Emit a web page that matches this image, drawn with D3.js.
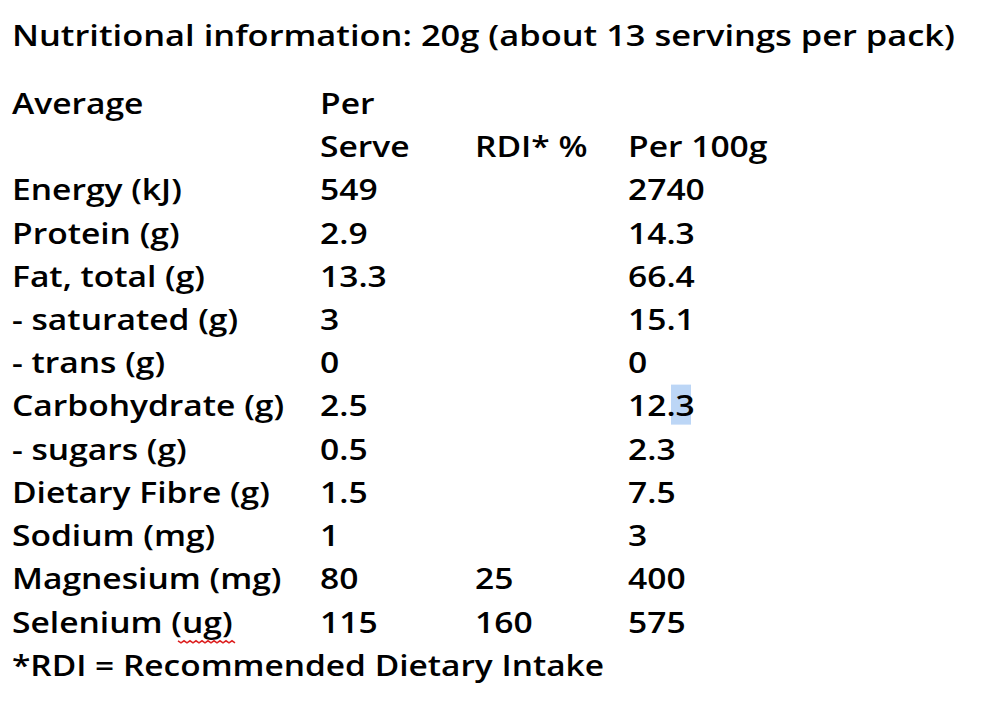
<!DOCTYPE html>
<html><head><meta charset="utf-8">
<script src="https://cdn.jsdelivr.net/npm/d3@7"></script>
<style>body{margin:0;background:#fff}</style>
</head><body>
<script>
const title = "Nutritional information: 20g (about 13 servings per pack)";
const headers = [["Average",""],["Per","Serve"],["","RDI* %"],["","Per 100g"]];
const nutrients = ["Energy (kJ)","Protein (g)","Fat, total (g)","- saturated (g)","- trans (g)","Carbohydrate (g)","- sugars (g)","Dietary Fibre (g)","Sodium (mg)","Magnesium (mg)","Selenium (ug)"];
const perServe = ["549","2.9","13.3","3","0","2.5","0.5","1.5","1","80","115"];
const rdi = ["","","","","","","","","","25","160"];
const per100g = ["2740","14.3","66.4","15.1","0","12.3","2.3","7.5","3","400","575"];
const footnote = "*RDI = Recommended Dietary Intake";

const W=1000,H=708;
const svg=d3.select("body").append("svg").attr("width",W).attr("height",H);
const font="'Open Sans', sans-serif";
const rowKeys=["h1","h2",...nutrients.map((d,i)=>"r"+i),"foot"];
const y=d3.scalePoint().domain(rowKeys).range([103,665]);
const x=d3.scaleOrdinal().domain(["label","serve","rdi","p100"]).range([12,320,475,628]);
const txt=(s,xx,yy)=>svg.append("text").attr("transform",`translate(${xx},${yy}) scale(1.2,1)`)
  .attr("dominant-baseline","central")
  .attr("font-family",font).attr("font-size",28).attr("font-weight",600).attr("fill","#000").text(s);

txt(title,12,35).attr("textLength",943/1.2).attr("lengthAdjust","spacingAndGlyphs");
const cols=["label","serve","rdi","p100"];
headers.forEach((h,i)=>{ if(h[0]) txt(h[0],x(cols[i]),y("h1")); if(h[1]) txt(h[1],x(cols[i]),y("h2"));});
svg.append("rect").attr("x",671).attr("y",y("r5")-21).attr("width",20).attr("height",40).attr("fill","#bcd6f6");
nutrients.forEach((n,i)=>{
  const yy=y("r"+i);
  txt(n,x("label"),yy);
  txt(perServe[i],x("serve"),yy);
  if(rdi[i]) txt(rdi[i],x("rdi"),yy);
  txt(per100g[i],x("p100"),yy);
});
const sy=y("r10")+19;
const pts=d3.range(178,236,3).map((xx,k)=>[xx,sy+(k%2?2:0)]);
svg.append("path").attr("d",d3.line()(pts)).attr("stroke","#d22").attr("fill","none").attr("stroke-width",1.5);
txt(footnote,12,y("foot")).attr("textLength",592/1.2).attr("lengthAdjust","spacingAndGlyphs");
</script>
</body></html>
